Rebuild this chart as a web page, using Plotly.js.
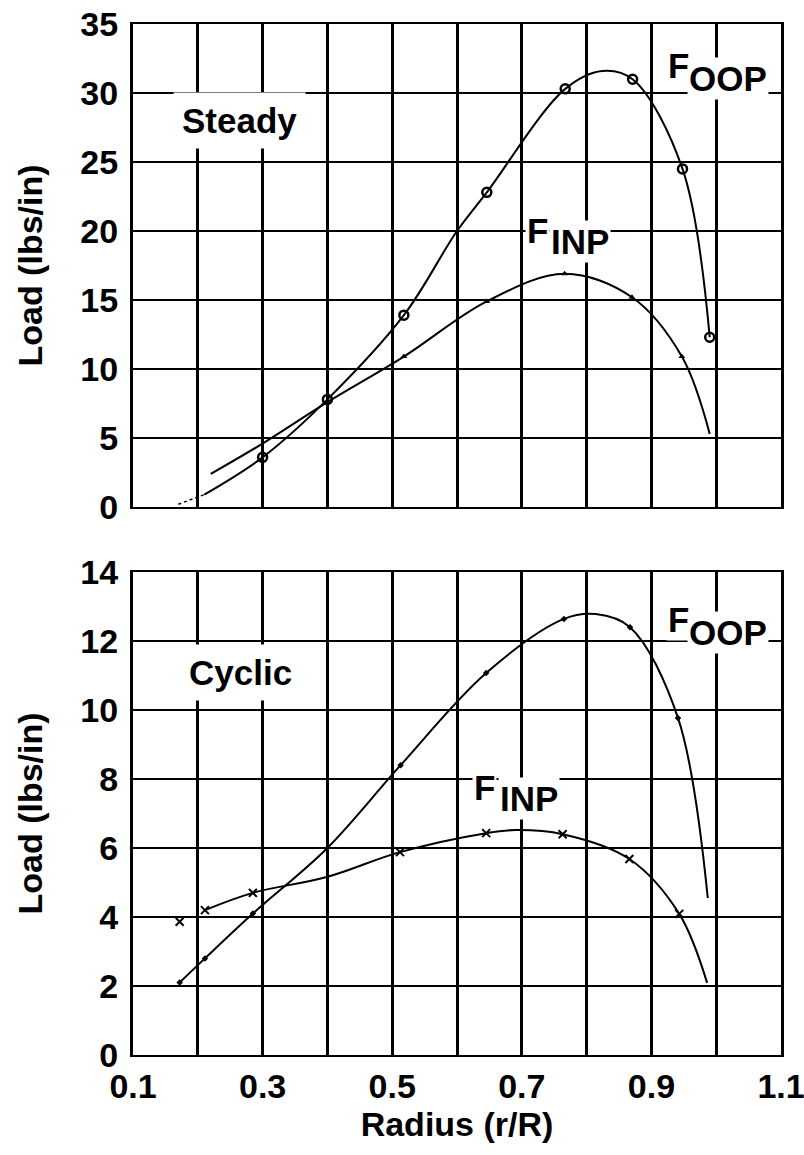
<!DOCTYPE html>
<html>
<head>
<meta charset="utf-8">
<script src="https://cdn.plot.ly/plotly-3.0.1.min.js"></script>
<style>html,body{margin:0;padding:0;background:#fff;}#chart{width:804px;height:1155px;}</style>
</head>
<body>
<div id="chart"></div>
<script>
// ---- Data ----
const xLabelVals = [0.1, 0.3, 0.5, 0.7, 0.9, 1.1];
const xLabelText = ['0.1', '0.3', '0.5', '0.7', '0.9', '1.1'];
const steadyTickVals = [0, 5, 10, 15, 20, 25, 30, 35];
const cyclicTickVals = [0, 2, 4, 6, 8, 10, 12, 14];

// Steady - out-of-plane load (curve and open-circle markers)
const steadyFoopCurveX = [0.21, 0.3, 0.4, 0.518, 0.6, 0.646, 0.767, 0.824, 0.871, 0.948, 0.99];
const steadyFoopCurveY = [0.9, 3.6, 7.8, 13.9, 20.0, 22.8, 30.3, 31.6, 31.0, 24.5, 12.3];
const steadyFoopMarkX = [0.3, 0.4, 0.518, 0.646, 0.767, 0.871, 0.948, 0.99];
const steadyFoopMarkY = [3.6, 7.8, 13.9, 22.8, 30.3, 31.0, 24.5, 12.3];
const steadyFoopStubX = [0.17, 0.21];
const steadyFoopStubY = [0.2, 0.9];

// Steady - in-plane load
const steadyFinpCurveX = [0.22, 0.3, 0.4, 0.518, 0.646, 0.766, 0.87, 0.947, 0.99];
const steadyFinpCurveY = [2.4, 4.6, 7.6, 10.9, 14.9, 16.9, 15.2, 10.9, 5.3];
const steadyFinpMarkX = [0.518, 0.646, 0.766, 0.87, 0.947];
const steadyFinpMarkY = [10.9, 14.9, 16.9, 15.2, 10.9];

// Cyclic - out-of-plane load
const cyclicFoopCurveX = [0.172, 0.211, 0.285, 0.4, 0.513, 0.645, 0.765, 0.814, 0.867, 0.941, 0.987];
const cyclicFoopCurveY = [2.1, 2.8, 4.1, 6.0, 8.4, 11.07, 12.64, 12.78, 12.4, 9.77, 4.55];
const cyclicFoopMarkX = [0.172, 0.211, 0.285, 0.513, 0.645, 0.765, 0.867, 0.941];
const cyclicFoopMarkY = [2.1, 2.8, 4.1, 8.4, 11.07, 12.64, 12.4, 9.77];

// Cyclic - in-plane load
const cyclicFinpCurveX = [0.211, 0.285, 0.399, 0.512, 0.645, 0.69, 0.763, 0.866, 0.943, 0.986];
const cyclicFinpCurveY = [4.2, 4.7, 5.16, 5.88, 6.43, 6.52, 6.4, 5.68, 4.09, 2.09];
const cyclicFinpMarkX = [0.172, 0.211, 0.285, 0.512, 0.645, 0.763, 0.866, 0.943];
const cyclicFinpMarkY = [3.86, 4.2, 4.7, 5.88, 6.43, 6.4, 5.68, 4.09];

// ---- Styling ----
const FONT = 'Liberation Sans, Arial, Helvetica, sans-serif';
const curveLine = {color: '#000', width: 2, shape: 'spline', smoothing: 1};

const traces = [
  {x: steadyFoopStubX, y: steadyFoopStubY, mode: 'lines', line: {color: '#000', width: 1.5, dash: 'dot'}, xaxis: 'x', yaxis: 'y', hoverinfo: 'skip'},
  {x: steadyFoopCurveX, y: steadyFoopCurveY, mode: 'lines', line: curveLine, xaxis: 'x', yaxis: 'y'},
  {x: steadyFoopMarkX, y: steadyFoopMarkY, mode: 'markers', marker: {symbol: 'circle-open', size: 9, color: '#000', line: {width: 2.5, color: '#000'}}, xaxis: 'x', yaxis: 'y'},
  {x: steadyFinpCurveX, y: steadyFinpCurveY, mode: 'lines', line: curveLine, xaxis: 'x', yaxis: 'y'},
  {x: steadyFinpMarkX, y: steadyFinpMarkY, mode: 'markers', marker: {symbol: 'triangle-up', size: 6, color: '#000'}, xaxis: 'x', yaxis: 'y'},

  {x: cyclicFoopCurveX, y: cyclicFoopCurveY, mode: 'lines', line: curveLine, xaxis: 'x2', yaxis: 'y2'},
  {x: cyclicFoopMarkX, y: cyclicFoopMarkY, mode: 'markers', marker: {symbol: 'diamond', size: 5, color: '#000'}, xaxis: 'x2', yaxis: 'y2'},
  {x: cyclicFinpCurveX, y: cyclicFinpCurveY, mode: 'lines', line: curveLine, xaxis: 'x2', yaxis: 'y2'},
  {x: cyclicFinpMarkX, y: cyclicFinpMarkY, mode: 'markers', marker: {symbol: 'x-thin-open', size: 8, color: '#000', line: {width: 2, color: '#000'}}, xaxis: 'x2', yaxis: 'y2'}
];

const tickFont = {family: FONT, size: 34, color: '#000', weight: 'bold'};
const titleFont = {family: FONT, size: 34, color: '#000', weight: 'bold'};

function xAxis(domain, showLabels, anchor) {
  return {
    domain: domain, anchor: anchor, range: [0.1, 1.1],
    tickmode: 'array', tickvals: xLabelVals, ticktext: xLabelText,
    showticklabels: showLabels, tickfont: tickFont, ticks: '',
    ticklabeloverflow: 'allow',
    showgrid: true, gridcolor: '#000', gridwidth: 3,
    minor: {dtick: 0.1, tick0: 0.1, showgrid: true, gridcolor: '#000', gridwidth: 3, ticks: ''},
    showline: true, linecolor: '#000', linewidth: 2, mirror: true,
    zeroline: false, fixedrange: true, ticklabelstandoff: 0
  };
}
function yAxis(domain, range, vals, anchor) {
  return {
    domain: domain, anchor: anchor, range: range,
    tickmode: 'array', tickvals: vals,
    tickfont: tickFont, ticks: '',
    showgrid: true, gridcolor: '#000', gridwidth: 2,
    showline: true, linecolor: '#000', linewidth: 3, mirror: true,
    zeroline: false, fixedrange: true, ticklabelstandoff: 5,
    title: {text: 'Load (lbs/in)', font: titleFont, standoff: 28}
  };
}

const labelFont = {family: FONT, size: 35, color: '#000', weight: 'bold'};
function label(text, x, y, xref, yref, xshift, yshift, pad) {
  return {text: text, x: x, y: y, xref: xref, yref: yref, showarrow: false,
          xshift: xshift || 0, yshift: yshift || 0,
          font: labelFont, bgcolor: '#fff', borderpad: pad === undefined ? 8 : pad};
}

const layout = {
  width: 804, height: 1155,
  margin: {l: 133, r: 23, t: 24, b: 100},
  paper_bgcolor: '#fff', plot_bgcolor: '#fff',
  showlegend: false,
  xaxis: xAxis([0, 1], false, 'y'),
  yaxis: yAxis([0.5315, 1], [0, 35], steadyTickVals, 'x'),
  xaxis2: Object.assign(xAxis([0, 1], true, 'y2'), {
    title: {text: 'Radius (r/R)', font: titleFont, standoff: 8}
  }),
  yaxis2: yAxis([0, 0.4685], [0, 14], cyclicTickVals, 'x2'),
  annotations: [
    label('Steady', 0.264, 28.0, 'x', 'y'),
    label('F', 1.0, 31.45, 'x', 'y', -38, 7, 1),
    label('OOP', 1.0, 31.45, 'x', 'y', 12, -6, 1),
    label('F', 0.771, 19.6, 'x', 'y', -30, 6, 1),
    label('INP', 0.771, 19.6, 'x', 'y', 12, -5, 1),
    label('Cyclic', 0.266, 11.1, 'x2', 'y2'),
    label('F', 1.0, 12.43, 'x2', 'y2', -38, 7, 1),
    label('OOP', 1.0, 12.43, 'x2', 'y2', 12, -6, 1),
    label('F', 0.691, 7.57, 'x2', 'y2', -31, 6, 1),
    label('INP', 0.691, 7.57, 'x2', 'y2', 13, -5, 1)
  ]
};

Plotly.newPlot('chart', traces, layout, {staticPlot: true, displayModeBar: false});
</script>
</body>
</html>
